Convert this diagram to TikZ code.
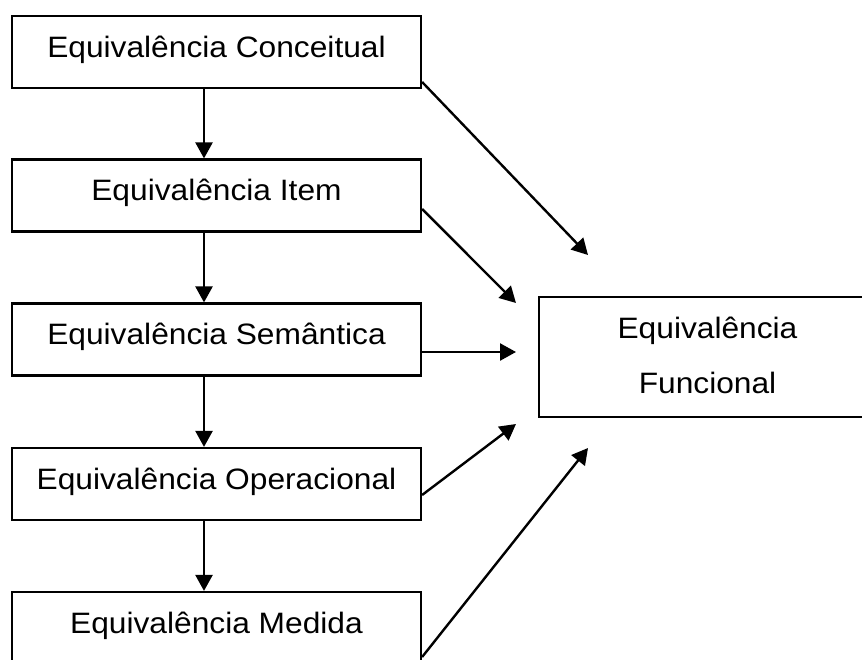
\documentclass[tikz,border=0pt]{standalone}
\usepackage{fontspec}
\setmainfont[FakeStretch=1.075]{Liberation Sans}
\usetikzlibrary{arrows.meta}
\begin{document}
\begin{tikzpicture}[x=1pt,y=-1pt,
  box/.style={draw, line width=2.2pt, inner sep=0pt, minimum width=409pt, minimum height=72pt,
    text height=21pt, text depth=11pt, font=\fontsize{29.5}{35}\selectfont},
  fbox/.style={draw, line width=2.2pt, inner sep=0pt, minimum width=337pt, minimum height=120pt,
    align=center, text height=76pt, text depth=4pt, font=\fontsize{29.5}{55}\selectfont},
  arr/.style={line width=2.4pt, -{Triangle[length=16pt,width=17pt]}}]
\useasboundingbox (0,0) rectangle (862,659);
\clip (0,0) rectangle (862,659);
\node[box] (b1) at (216.5,52) {Equivalência Conceitual};
\node[box] (b2) at (216.5,195.5) {Equivalência Item};
\node[box] (b3) at (216.5,339.5) {Equivalência Semântica};
\node[box] (b4) at (216.5,484) {Equivalência Operacional};
\node[box] (b5) at (216.5,628) {Equivalência Medida};
\node[fbox] (f) at (707.5,357) {Equivalência\\Funcional};
\coordinate (vx) at (204,0);
\draw[arr] (b1.south -| vx) -- (b2.north -| vx);
\draw[arr] (b2.south -| vx) -- (b3.north -| vx);
\draw[arr] (b3.south -| vx) -- (b4.north -| vx);
\draw[arr] (b4.south -| vx) -- (b5.north -| vx);
\coordinate (t1) at (588,255);
\coordinate (t2) at (516,303);
\coordinate (t3) at (516,352);
\coordinate (t4) at (516,424);
\coordinate (t5) at (588,448);
\draw[arr] ([yshift=-30pt]b1.east) -- (t1);
\draw[arr] ([yshift=-13.5pt]b2.east) -- (t2);
\draw[arr] ([yshift=-12.5pt]b3.east) -- (t3);
\draw[arr] ([yshift=-11pt]b4.east) -- (t4);
\draw[arr] ([yshift=-29pt]b5.east) -- (t5);
\end{tikzpicture}
\end{document}
